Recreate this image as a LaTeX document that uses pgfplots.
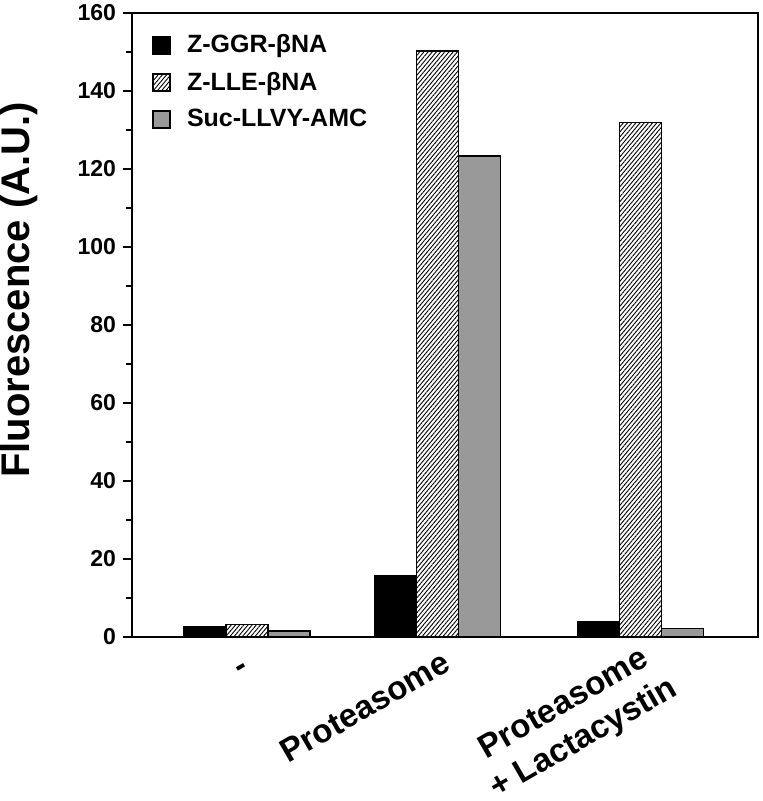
\documentclass[border=0pt]{standalone}
\usepackage{fontspec}
\setmainfont{Liberation Sans}
\usepackage{pgfplots}
\pgfplotsset{compat=1.18}
\usetikzlibrary{patterns.meta}
\pgfplotsset{
  mylegend/.style={legend image code/.code={\draw[##1, draw=black, line width=0.8pt] (0pt,-4.25pt) rectangle (8.5pt,4.25pt);}},
}
\tikzset{xlab/.style={rotate=30, anchor=north east, align=center, font=\fontsize{16.5}{20}\selectfont\bfseries}}
\begin{document}
\begin{tikzpicture}
\begin{axis}[
  at={(0,0)}, anchor=south west,
  width=313pt, height=312pt, scale only axis,
  xmin=0, xmax=626, ymin=0, ymax=160,
  ytick={0,20,...,160}, minor ytick={10,30,...,150},
  tick align=outside, ytick pos=left,
  major tick length=4.5pt, minor tick length=3pt,
  every tick/.style={black, line width=0.8pt},
  xtick=\empty,
  yticklabel={\fontsize{11.5}{13}\selectfont\bfseries\pgfmathprintnumber[assume math mode=true]{\tick}},
  ylabel={Fluorescence (A.U.)},
  ylabel style={at={(axis description cs:-0.18,0.556)}, anchor=center, font=\fontsize{20}{22}\selectfont\bfseries},
  ybar, bar width=42,
  axis line style={line width=1pt},
  clip=false,
  legend style={draw=none, fill=none, at={(0.032,0.972)}, anchor=north west, inner sep=0pt,
    font=\fontsize{12.5}{14}\selectfont\bfseries, row sep=4pt,
    /tikz/every odd column/.append style={column sep=6pt}},
  legend cell align=left,
]
\addplot[fill=black, draw=black, line width=0.8pt, bar shift=-42, mylegend] coordinates {(115,2.65) (305.5,15.7) (508.5,3.8)};
\addplot[fill=white, draw=black, line width=0.8pt, bar shift=0,
  postaction={pattern={Lines[angle=50, distance=1.6pt, line width=0.45pt]}}, mylegend] coordinates {(115,3.25) (305.5,150.3) (508.5,131.9)};
\addplot[fill=black!40, draw=black, line width=0.8pt, bar shift=42, mylegend] coordinates {(115,1.5) (305.5,123.3) (508.5,2.2)};
\legend{Z-GGR-βNA, Z-LLE-βNA, Suc-LLVY-AMC}
\node[xshift=0pt, yshift=-8pt, xlab] at (axis cs:115,0) {-};
\node[xshift=3pt, yshift=-1.5pt, xlab] at (axis cs:305.5,0) {Proteasome};
\node[xshift=5pt, yshift=3.5pt, xlab] at (axis cs:508.5,0) {Proteasome\\+ Lactacystin};
\end{axis}
\pgfresetboundingbox
\path[use as bounding box] (-66pt,-82pt) rectangle (315pt,318.5pt);
\end{tikzpicture}
\end{document}
